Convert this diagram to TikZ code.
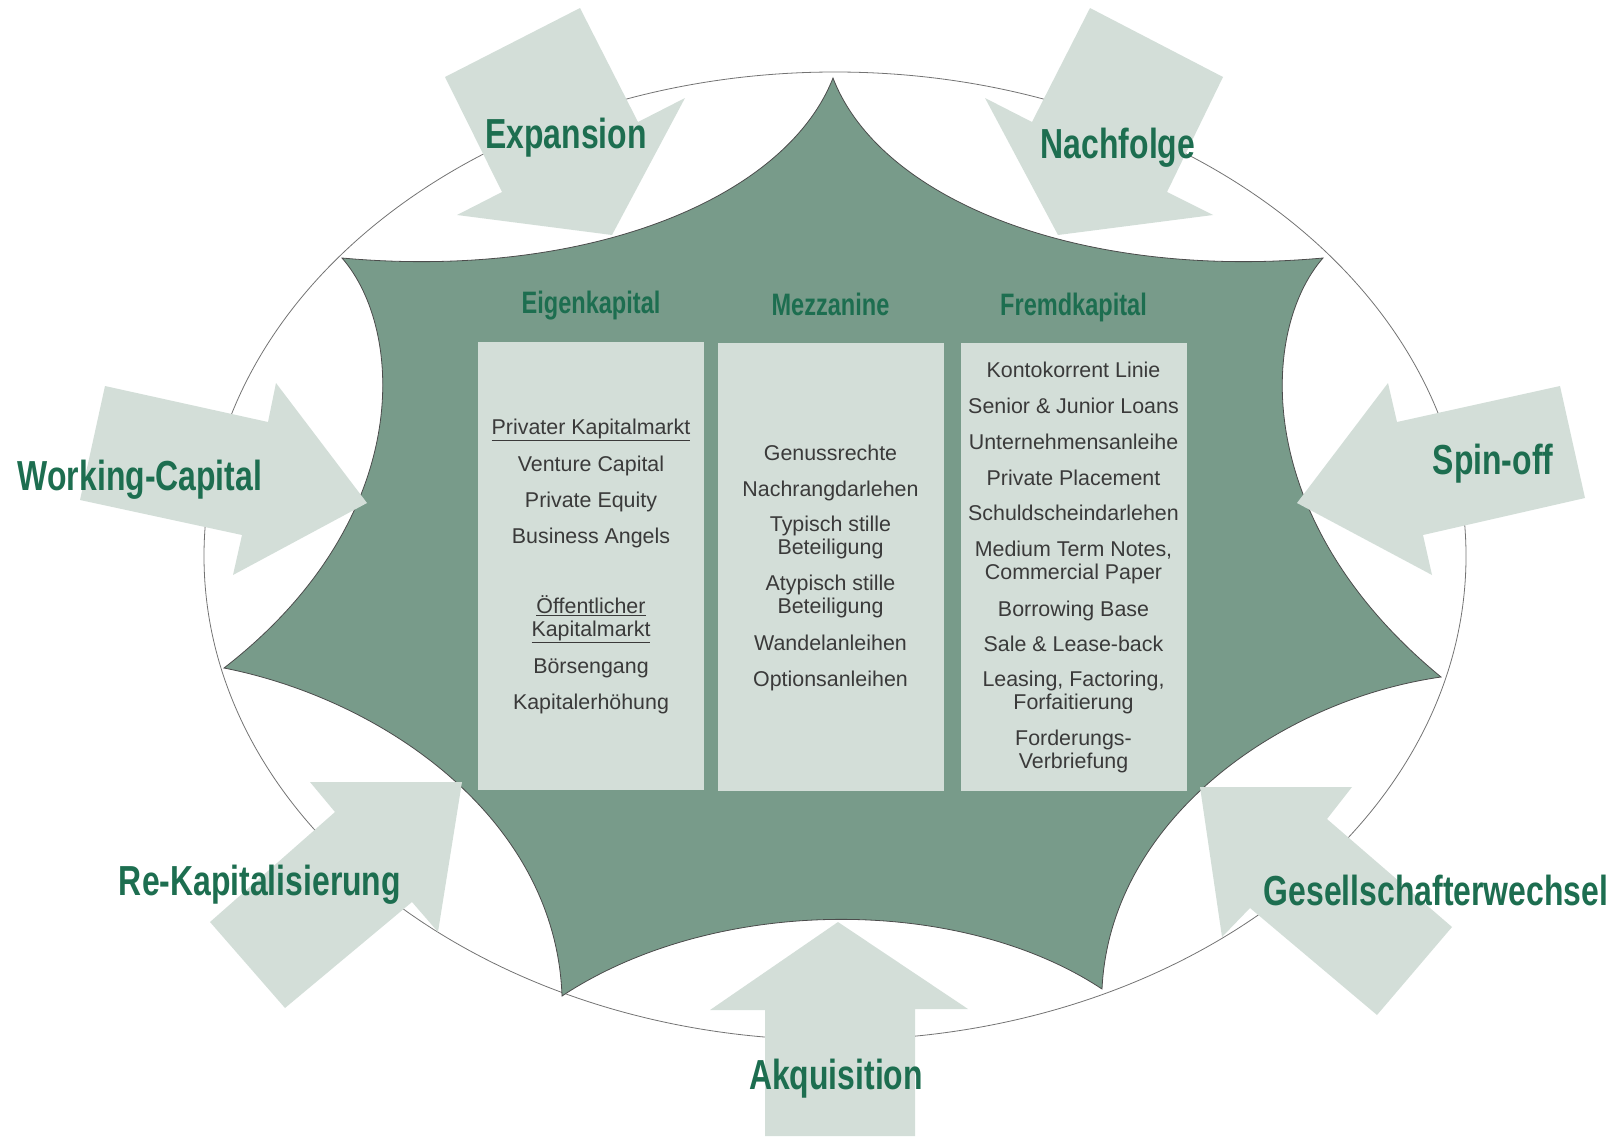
\documentclass[tikz,border=0pt]{standalone}
\usepackage{fontspec}
\setmainfont{Liberation Sans}
\newfontfamily\headfont{Liberation Sans}[FakeStretch=0.76]
\usetikzlibrary{positioning}
\definecolor{stargreen}{HTML}{789B8A}
\definecolor{palegreen}{HTML}{D3DED8}
\definecolor{labelgreen}{HTML}{1D6E50}
\definecolor{itemgray}{HTML}{3A3A3A}
\tikzstyle{occasion} = [font=\headfont\bfseries\fontsize{42}{46}\selectfont, text=labelgreen, anchor=base, inner sep=0pt]
\tikzstyle{colhead} = [font=\headfont\bfseries\fontsize{31}{34}\selectfont, text=labelgreen, inner sep=0pt, text height=23pt, text depth=7pt]
\tikzstyle{column} = [rectangle, fill=palegreen, minimum width=226pt, minimum height=448pt, inner sep=0pt]
\tikzstyle{item} = [font=\fontsize{21.4}{23}\selectfont, text=itemgray, align=center, inner sep=0pt, anchor=base]
\tikzstyle{item2} = [item, anchor=center]
\tikzstyle{bigarrow} = [fill=palegreen]
\tikzstyle{capstar} = [fill=stargreen, draw=black!70, line width=0.8pt]

\begin{document}
\begin{tikzpicture}[x=1pt, y=-1pt]
\useasboundingbox (0,0) rectangle (1619,1136);

% ring and star
\draw[black!55, line width=0.8pt] (835,556) ellipse [x radius=631pt, y radius=484pt];
\draw[capstar] (833,78)
  .. controls (880,200) and (1080,280) .. (1323,258)
  .. controls (1260,330) and (1250,520) .. (1441,677)
  .. controls (1280,700) and (1110,820) .. (1102,989)
  .. controls (960,895) and (715,895) .. (562,996)
  .. controls (556,820) and (386,700) .. (224,668)
  .. controls (415,520) and (405,330) .. (342,258)
  .. controls (585,280) and (785,200) .. (833,78) -- cycle;

% columns
\node [column] (ek) at (591,566) {};
\node [column] (mz) at (830.5,567) {};
\node [column] (fk) at (1073.5,567) {};
\node [colhead, above=21pt of ek] (eigen) {Eigenkapital};
\node [colhead, above=20pt of mz] (mezz) {Mezzanine};
\node [colhead, above=20pt of fk] (fremd) {Fremdkapital};

% arrows
\fill[bigarrow] (445,77) -- (580,8) -- (638,122) -- (685,98) -- (612,235) -- (457,215) -- (502,192) -- cycle;
\fill[bigarrow] (1090,8) -- (1223,77) -- (1167,192) -- (1213,215) -- (1058,235) -- (985,98) -- (1032,122) -- cycle;
\fill[bigarrow] (105,386) -- (268,422) -- (276,383) -- (367,503) -- (233,575) -- (242,535) -- (80,500) -- cycle;
\fill[bigarrow] (1560,386) -- (1397,422) -- (1388,383) -- (1297,503) -- (1432,575) -- (1423,535) -- (1585,498) -- cycle;
\fill[bigarrow] (335,812) -- (310,782) -- (462,782) -- (438,932) -- (412,902) -- (285,1008) -- (210,922) -- cycle;
\fill[bigarrow] (838,922) -- (968,1009) -- (915,1009) -- (915,1136) -- (765,1136) -- (765,1010) -- (710,1010) -- cycle;
\fill[bigarrow] (1200,787) -- (1352,787) -- (1327,819) -- (1452,927) -- (1377,1015) -- (1250,908) -- (1222,937) -- cycle;

% occasions
\node [occasion] (expansion) at (566,148) {Expansion};
\node [occasion] (nachfolge) at (1118,158) {Nachfolge};
\node [occasion] (wc) at (140,490) {Working-Capital};
\node [occasion] (spinoff) at (1493,474) {Spin-off};
\node [occasion] (rekap) at (260,895) {Re-Kapitalisierung};
\node [occasion] (akq) at (836,1089) {Akquisition};
\node [occasion] (gw) at (1436,905) {Gesellschafterwechsel};

% Eigenkapital
\node [item] (pkm) at (591,434) {\underline{Privater Kapitalmarkt}};
\node [item] (vc) at (591,471) {Venture Capital};
\node [item] (pe) at (591,507) {Private Equity};
\node [item] (ba) at (591,543) {Business Angels};
\node [item2] (okm) at (591,619.5) {\underline{Öffentlicher}\\\underline{Kapitalmarkt}};
\node [item] (ipo) at (591,673) {Börsengang};
\node [item] (kh) at (591,709) {Kapitalerhöhung};

% Mezzanine
\node [item] (gr) at (830.5,460) {Genussrechte};
\node [item] (nd) at (830.5,496) {Nachrangdarlehen};
\node [item2] (tsb) at (830.5,537.5) {Typisch stille\\Beteiligung};
\node [item2] (asb) at (830.5,596.5) {Atypisch stille\\Beteiligung};
\node [item] (wa) at (830.5,650) {Wandelanleihen};
\node [item] (oa) at (830.5,686) {Optionsanleihen};

% Fremdkapital
\node [item] (kk) at (1073.5,377) {Kontokorrent Linie};
\node [item] (sjl) at (1073.5,413) {Senior \& Junior Loans};
\node [item] (ua) at (1073.5,449) {Unternehmensanleihe};
\node [item] (pp) at (1073.5,485) {Private Placement};
\node [item] (sd) at (1073.5,520) {Schuldscheindarlehen};
\node [item2] (mtn) at (1073.5,562) {Medium Term Notes,\\Commercial Paper};
\node [item] (bb) at (1073.5,616) {Borrowing Base};
\node [item] (slb) at (1073.5,651) {Sale \& Lease-back};
\node [item2] (lff) at (1073.5,692.5) {Leasing, Factoring,\\Forfaitierung};
\node [item2] (fv) at (1073.5,751.5) {Forderungs-\\Verbriefung};

\end{tikzpicture}
\end{document}
